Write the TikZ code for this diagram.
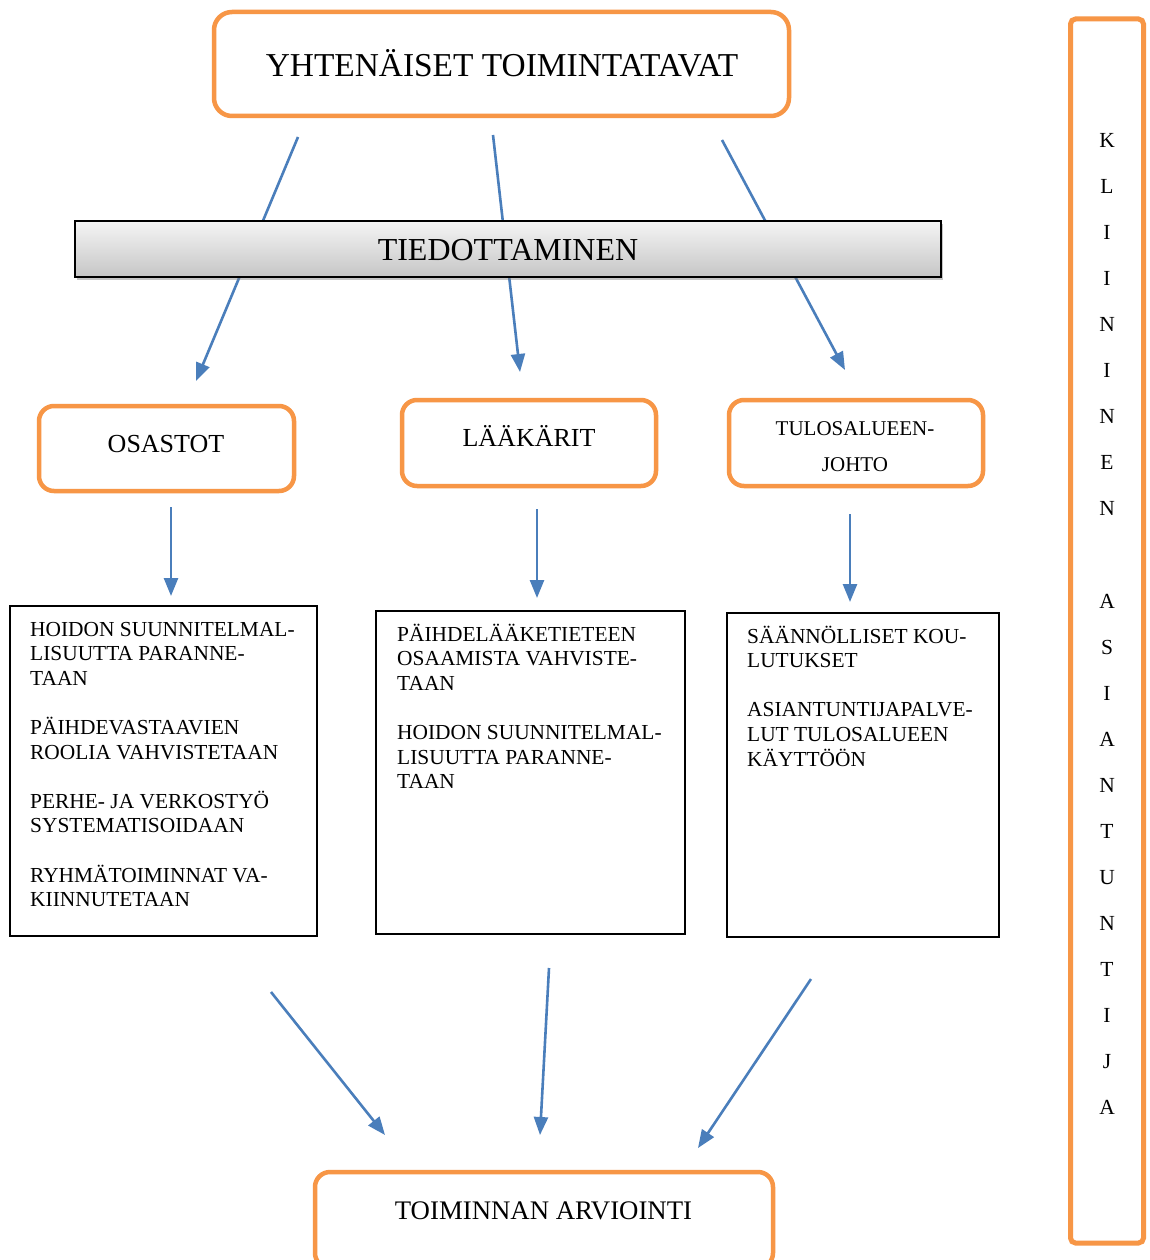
\documentclass[tikz,border=0pt]{standalone}
\usepackage{fontspec}
\setmainfont{Liberation Serif}
\usetikzlibrary{arrows.meta,shadows}
\definecolor{orng}{HTML}{F79646}
\definecolor{blu}{HTML}{4A7EBB}
\begin{document}
\begin{tikzpicture}[x=1pt,y=-1pt,
  obox/.style={draw=orng,line width=4.5pt,rounded corners=15pt,inner sep=0pt,fill=white},
  tbox/.style={draw=black,line width=1.1pt,inner sep=0pt,fill=white},
  gbox/.style={draw=black,line width=1.4pt,inner sep=0pt,top color=gray!8,bottom color=gray!45,
     drop shadow={shadow xshift=2pt,shadow yshift=-3pt,opacity=0.45}},
  conn/.style={draw=blu,line width=2.6pt,-{Triangle[length=18pt,width=14pt]}},
  big/.style={anchor=base,inner sep=0pt,font=\fontsize{32}{38}\selectfont},
  mid/.style={anchor=base,inner sep=0pt,font=\fontsize{26}{31}\selectfont},
  lst/.style={anchor=base west,inner sep=0pt,font=\fontsize{21.4}{24.6}\selectfont},
]
\useasboundingbox (0,0) rectangle (1149,1260);
\fill[white] (0,0) rectangle (1149,1260);

% free ends of the connectors
\coordinate (a1s) at (298,137); \coordinate (a1e) at (196,381);
\coordinate (a2s) at (493,135); \coordinate (a2e) at (520,372);
\coordinate (a3s) at (722,140); \coordinate (a3e) at (845,370);
\coordinate (b1s) at (171,507); \coordinate (b1e) at (171,596);
\coordinate (b2s) at (537,509); \coordinate (b2e) at (537,598);
\coordinate (b3s) at (850,514); \coordinate (b3e) at (850,602);
\coordinate (c1s) at (271,992); \coordinate (c1e) at (385,1135);
\coordinate (c2s) at (549,968); \coordinate (c2e) at (540,1135);
\coordinate (c3s) at (811,979); \coordinate (c3e) at (698,1148);

\draw[conn] (a1s) -- (a1e);
\draw[conn] (a2s) -- (a2e);
\draw[conn] (a3s) -- (a3e);

% top box
\node[obox,rounded corners=18pt,minimum width=575pt,minimum height=104pt] (top) at (501.5,64) {};
\node[big,font=\fontsize{33.4}{38}\selectfont] (topt) at (502,77) {YHTENÄISET TOIMINTATAVAT};

% gray bar
\node[gbox,minimum width=866pt,minimum height=56pt] (tied) at (508,249) {};
\node[big] (tiedt) at (508,260.5) {TIEDOTTAMINEN};

% middle boxes
\node[obox,minimum width=255pt,minimum height=85pt] (osa) at (166.5,448.5) {};
\node[mid] (osat) at (166,452.5) {OSASTOT};
\node[obox,minimum width=254pt,minimum height=86pt] (laa) at (529,443) {};
\node[mid] (laat) at (529,446.5) {LÄÄKÄRIT};
\node[obox,minimum width=254pt,minimum height=86pt] (tul) at (856,443) {};
\node[anchor=base,inner sep=0pt,font=\fontsize{21}{36}\selectfont] (tult) at (855,435)
  {\parbox[t]{200pt}{\centering TULOSALUEEN-\\JOHTO}};

\draw[conn] (b1s) -- (b1e);
\draw[conn] (b2s) -- (b2e);
\draw[conn] (b3s) -- (b3e);

% list boxes
\node[tbox,minimum width=307pt,minimum height=330pt] (l1) at (163.5,771) {};
\node[lst] (l1t) at (30,636) {\parbox[t]{285pt}{\raggedright
HOIDON SUUNNITELMAL-\\LISUUTTA PARANNE-\\TAAN\\[24.6pt]
PÄIHDEVASTAAVIEN\\ROOLIA VAHVISTETAAN\\[24.6pt]
PERHE- JA VERKOSTYÖ\\SYSTEMATISOIDAAN\\[24.6pt]
RYHMÄTOIMINNAT VA-\\KIINNUTETAAN}};

\node[tbox,minimum width=309pt,minimum height=323pt] (l2) at (530.5,772.5) {};
\node[lst] (l2t) at (397,641) {\parbox[t]{285pt}{\raggedright
PÄIHDELÄÄKETIETEEN\\OSAAMISTA VAHVISTE-\\TAAN\\[24.6pt]
HOIDON SUUNNITELMAL-\\LISUUTTA PARANNE-\\TAAN}};

\node[tbox,minimum width=272pt,minimum height=324pt] (l3) at (863,775) {};
\node[lst] (l3t) at (747,643) {\parbox[t]{250pt}{\raggedright
SÄÄNNÖLLISET KOU-\\LUTUKSET\\[24.6pt]
ASIANTUNTIJAPALVE-\\LUT TULOSALUEEN\\KÄYTTÖÖN}};

\draw[conn] (c1s) -- (c1e);
\draw[conn] (c2s) -- (c2e);
\draw[conn] (c3s) -- (c3e);

% bottom box
\node[obox,minimum width=458pt,minimum height=96pt] (arv) at (544,1220) {};
\node[mid,font=\fontsize{26.8}{31}\selectfont] (arvt) at (543.5,1219.5) {TOIMINNAN ARVIOINTI};

% right vertical box
\node[obox,line width=5pt,rounded corners=5pt,minimum width=73pt,minimum height=1224pt] (kli) at (1107,631) {};
\node[anchor=base,inner sep=0pt,font=\fontsize{21.5}{46.05}\selectfont] (klit) at (1107,147.5)
  {\parbox[t]{40pt}{\centering K\\L\\I\\I\\N\\I\\N\\E\\N\\[46.05pt]A\\S\\I\\A\\N\\T\\U\\N\\T\\I\\J\\A}};
\end{tikzpicture}
\end{document}
